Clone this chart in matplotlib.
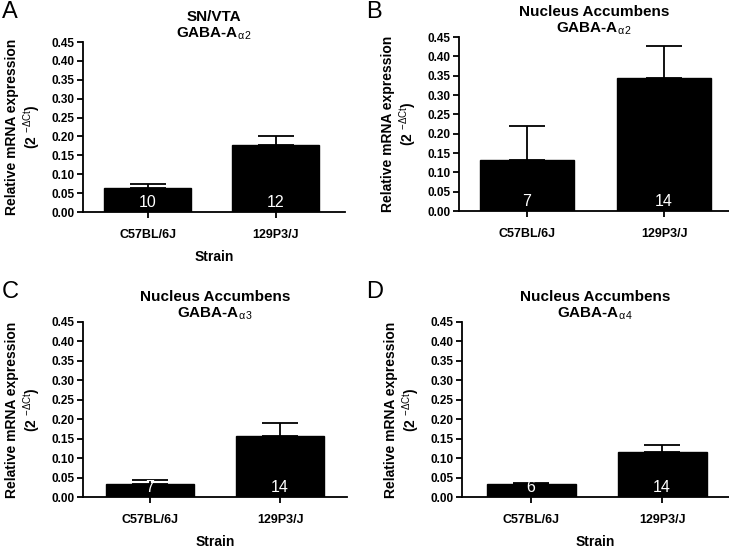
import matplotlib
matplotlib.use("Agg")
import matplotlib.pyplot as plt

plt.rcParams['font.family'] = ['Liberation Sans', 'DejaVu Sans']
plt.rcParams['mathtext.fontset'] = 'custom'
plt.rcParams['mathtext.rm'] = 'Liberation Sans'
plt.rcParams['mathtext.it'] = 'Liberation Sans'
plt.rcParams['mathtext.bf'] = 'Liberation Sans:bold'

strains = ['C57BL/6J', '129P3/J']

a_means = [0.063, 0.178]
a_err = [0.012, 0.023]
a_n = [10, 12]

b_means = [0.131, 0.343]
b_err = [0.088, 0.085]
b_n = [7, 14]

c_means = [0.034, 0.156]
c_err = [0.011, 0.034]
c_n = [7, 14]

d_means = [0.034, 0.116]
d_err = [0.001, 0.018]
d_n = [6, 14]

letters = ['A', 'B', 'C', 'D']
titles = ['SN/VTA\nGABA-A$_{\\alpha\\,2}$',
          'Nucleus Accumbens\nGABA-A$_{\\alpha\\,2}$',
          'Nucleus Accumbens\nGABA-A$_{\\alpha\\,3}$',
          'Nucleus Accumbens\nGABA-A$_{\\alpha\\,4}$']
y_ticks = [0.00, 0.05, 0.10, 0.15, 0.20, 0.25, 0.30, 0.35, 0.40, 0.45]

fig = plt.figure(figsize=(7.29, 5.49), dpi=100)

rects = [
    [83/729, 1 - 212/549, 262/729, 170/549],
    [459/729, 1 - 211/549, 270/729, 174/549],
    [83/729, 1 - 497/549, 264/729, 175/549],
    [462/729, 1 - 497/549, 267/729, 175/549],
]
xlims = [(-0.508, 1.54), (-0.496, 1.474), (-0.515, 1.515), (-0.527, 1.51)]
letter_pos = [(2/729, 1 - 1/549), (366/729, 1 - 1/549), (2/729, 1 - 281/549), (366/729, 1 - 281/549)]
title_pads = [3, 3, 3, 3]
show_xlabel = [True, False, True, True]

panels = [(a_means, a_err, a_n), (b_means, b_err, b_n),
          (c_means, c_err, c_n), (d_means, d_err, d_n)]

for i, (means, errs, ns) in enumerate(panels):
    ax = fig.add_axes(rects[i])
    x = list(range(len(strains)))
    ax.bar(x, means, width=0.68, color='black', edgecolor='black', zorder=2)
    ax.errorbar(x, means, yerr=[[0] * len(errs), errs], fmt='none',
                ecolor='black', elinewidth=1.3, capsize=13, capthick=1.3, zorder=1)
    for xi, n in zip(x, ns):
        ax.text(xi, 0.005, str(n), color='white', ha='center', va='bottom',
                fontsize=11.5, zorder=3)
    ax.set_xlim(*xlims[i])
    ax.set_ylim(0, 0.45)
    ax.set_yticks(y_ticks)
    ax.set_yticklabels([f"{v:.2f}" for v in y_ticks], fontweight='bold', fontsize=8.5)
    ax.set_xticks(x)
    ax.set_xticklabels(strains, fontweight='bold', fontsize=9)
    ax.spines['top'].set_visible(False)
    ax.spines['right'].set_visible(False)
    ax.spines['left'].set_linewidth(1.3)
    ax.spines['bottom'].set_linewidth(1.3)
    ax.tick_params(axis='both', direction='out', length=4, width=1.3, pad=2)
    ax.tick_params(axis='x', pad=8)
    ax.set_ylabel('Relative mRNA expression\n(2 $^{-\\Delta Ct}$)', fontweight='bold',
                  fontsize=10, labelpad=6.5, linespacing=1.1)
    if show_xlabel[i]:
        ax.set_xlabel('Strain', fontweight='bold', fontsize=10, labelpad=7)
    ax.set_title(titles[i], fontweight='bold', fontsize=11, pad=title_pads[i],
                 linespacing=1.15)
    fig.text(letter_pos[i][0], letter_pos[i][1], letters[i], fontsize=17,
             ha='left', va='top')

fig.savefig('out.png', dpi=100)
